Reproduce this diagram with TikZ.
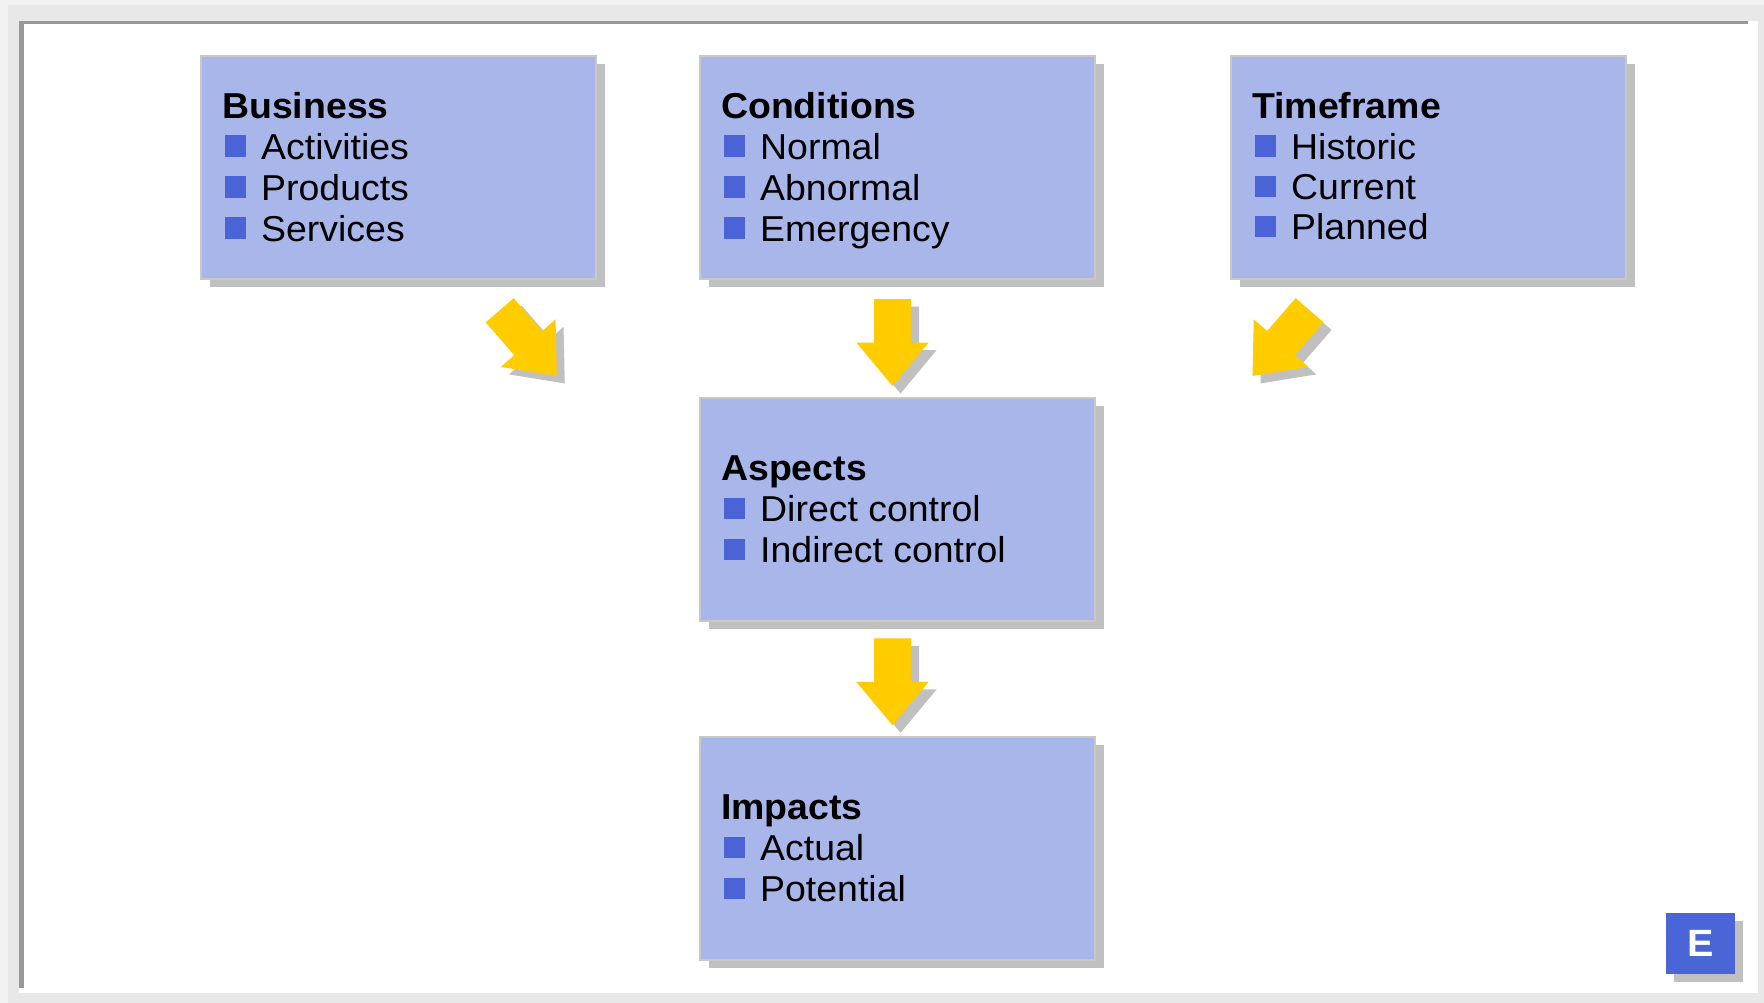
\documentclass[tikz,border=0pt]{standalone}
\usepackage{fontspec}
\setmainfont[FakeStretch=1.04]{Liberation Sans}
\usetikzlibrary{shadows,calc}
\definecolor{boxfill}{HTML}{A9B6EA}
\definecolor{boxline}{HTML}{C8C8C8}
\definecolor{shadowgray}{HTML}{C0C0C0}
\definecolor{bulletblue}{HTML}{4A64D8}
\definecolor{arrowyellow}{HTML}{FFCC00}
\definecolor{framegray}{HTML}{999999}
\definecolor{bggray}{HTML}{E8E8E8}
\definecolor{bglight}{HTML}{F2F2F2}
\definecolor{eboxblue}{HTML}{4A66D6}
\newcommand{\bitem}[1]{\hspace*{4.5pt}\textcolor{bulletblue}{\rule[2.5pt]{21.5pt}{21.5pt}}\hspace*{15pt}#1}
\tikzset{
  pics/blockarrow/.style={code={
    \fill[#1] (-18.5,0) -- (18.5,0) -- (18.5,43.5) -- (36.2,43.5) -- (0,87)
      -- (-36.2,43.5) -- (-18.5,43.5) -- cycle;}}
}
\begin{document}
\begin{tikzpicture}[x=1pt,y=-1pt,
  panel/.style={draw=boxline, line width=2pt, fill=boxfill, minimum width=395pt,
    minimum height=223pt, anchor=north west, inner sep=0pt, outer sep=0pt,
    drop shadow={shadow xshift=9pt, shadow yshift=-8pt, fill=shadowgray, opacity=1}},
  ttl/.style={anchor=base west, inner sep=0pt, font=\fontsize{36}{41}\selectfont\bfseries},
  itm/.style={anchor=base west, inner sep=0pt, font=\fontsize{36}{41}\selectfont},
  ebadge/.style={fill=eboxblue, minimum width=69pt, minimum height=61pt, anchor=north west,
    inner sep=0pt, outer sep=0pt, text=white, font=\fontsize{38}{40}\selectfont\bfseries,
    drop shadow={shadow xshift=8pt, shadow yshift=-8pt, fill=shadowgray, opacity=1}}
]
\useasboundingbox (0,0) rectangle (1764,1003);
% frame
\fill[bglight] (0,0) rectangle (1764,1003);
\fill[bggray] (8,5) rectangle (1764,1003);
\fill[white] (19,21) rectangle (1758,993);
\fill[framegray] (19,21) rectangle (1748,24);
\fill[framegray] (19,21) rectangle (24,988);

% panels
\node[panel] (bus) at (201,56) {};
\node[panel] (cond) at (700,56) {};
\node[panel] (time) at (1231,56) {};
\node[panel] (asp) at (700,398) {};
\node[panel] (imp) at (700,737) {};

% Business
\node[ttl] (busT) at ([shift={(21,62.5)}]bus.north west) {Business};
\node[itm] (bus1) at ([shift={(-2,41)}]busT.base west) {\bitem{Activities}};
\node[itm] (bus2) at ([shift={(0,41)}]bus1.base west) {\bitem{Products}};
\node[itm] (bus3) at ([shift={(0,41)}]bus2.base west) {\bitem{Services}};
% Conditions
\node[ttl] (condT) at ([shift={(21,62.5)}]cond.north west) {Conditions};
\node[itm] (cond1) at ([shift={(-2,41)}]condT.base west) {\bitem{Normal}};
\node[itm] (cond2) at ([shift={(0,41)}]cond1.base west) {\bitem{Abnormal}};
\node[itm] (cond3) at ([shift={(0,41)}]cond2.base west) {\bitem{Emergency}};
% Timeframe
\node[ttl] (timeT) at ([shift={(21,62.5)}]time.north west) {Timeframe};
\node[itm] (time1) at ([shift={(-2,41)}]timeT.base west) {\bitem{Historic}};
\node[itm] (time2) at ([shift={(0,40.5)}]time1.base west) {\bitem{Current}};
\node[itm] (time3) at ([shift={(0,40)}]time2.base west) {\bitem{Planned}};
% Aspects
\node[ttl] (aspT) at ([shift={(21,82.5)}]asp.north west) {Aspects};
\node[itm] (asp1) at ([shift={(-2,41)}]aspT.base west) {\bitem{Direct control}};
\node[itm] (asp2) at ([shift={(0,41)}]asp1.base west) {\bitem{Indirect control}};
% Impacts
\node[ttl] (impT) at ([shift={(21,82.5)}]imp.north west) {Impacts};
\node[itm] (imp1) at ([shift={(-2,41)}]impT.base west) {\bitem{Actual}};
\node[itm] (imp2) at ([shift={(0,41)}]imp1.base west) {\bitem{Potential}};

% block arrows
\coordinate (aBus) at (499.7,310.3);
\coordinate (aCond) at (892.5,299);
\coordinate (aTime) at (1309.6,310.3);
\coordinate (aAsp) at (892.5,638.3);
\pic[rotate=41] at ([shift={(8,7.5)}]aBus) {blockarrow=shadowgray};
\pic[rotate=41] at (aBus) {blockarrow=arrowyellow};
\pic at ([shift={(8,7.5)}]aCond) {blockarrow=shadowgray};
\pic at (aCond) {blockarrow=arrowyellow};
\pic[rotate=-41] at ([shift={(8,7.5)}]aTime) {blockarrow=shadowgray};
\pic[rotate=-41] at (aTime) {blockarrow=arrowyellow};
\pic at ([shift={(8,7.5)}]aAsp) {blockarrow=shadowgray};
\pic at (aAsp) {blockarrow=arrowyellow};

% badge
\node[ebadge] (badge) at (1666,913) {E};
\end{tikzpicture}
\end{document}
